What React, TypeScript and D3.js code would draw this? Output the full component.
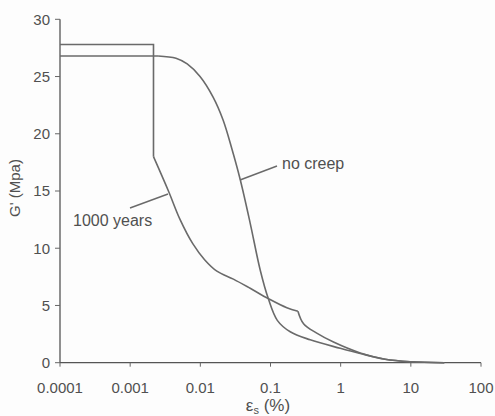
import React from "react";
import * as d3 from "d3";

const xTicks = [0.0001, 0.001, 0.01, 0.1, 1, 10, 100];
const xTickLabels = ["0.0001", "0.001", "0.01", "0.1", "1", "10", "100"];
const yTicks = [0, 5, 10, 15, 20, 25, 30];

// "1000 years" step part (flat then vertical drop)
const creepStepX = [0.0001, 0.00215, 0.00215];
const creepStepY = [27.8, 27.8, 18.0];
// "1000 years" decay part, up to the kink
const creepX = [0.00215, 0.00351, 0.00515, 0.0078, 0.0115, 0.0172, 0.0296, 0.0513, 0.093, 0.171, 0.246];
const creepY = [18.0, 15.0, 12.5, 10.4, 9.0, 8.0, 7.3, 6.5, 5.6, 4.8, 4.5];
// "1000 years" after the kink
const creepTailX = [0.246, 0.296, 0.45, 0.79, 1.9, 4.3, 10, 30];
const creepTailY = [4.5, 3.4, 2.6, 1.8, 0.85, 0.3, 0.08, 0];

// "no creep" plateau
const noCreepFlatX = [0.0001, 0.0025];
const noCreepFlatY = [26.8, 26.8];
// "no creep" decay
const noCreepX = [0.0025, 0.0045, 0.0065, 0.0099, 0.0152, 0.0211, 0.0284, 0.037, 0.0513, 0.0713, 0.093, 0.125, 0.191, 0.368, 0.986, 1.9, 4.3, 10, 30];
const noCreepY = [26.8, 26.6, 26.1, 25.0, 23.2, 21.2, 18.6, 16.0, 12.2, 8.1, 5.6, 3.7, 2.7, 2.0, 1.26, 0.8, 0.3, 0.08, 0];

export default function App() {
  const W = 495, H = 416;
  const x = d3.scaleLog().domain([1e-4, 100]).range([60, 481]);
  const y = d3.scaleLinear().domain([0, 30]).range([362.7, 19.3]);
  const lineColor = "#6a6a6a";
  const textColor = "#505050";
  const font = "'Liberation Sans', Arial, sans-serif";

  const zip = (xs: number[], ys: number[]) => xs.map((v, i) => [v, ys[i]] as [number, number]);
  const linLine = d3.line<[number, number]>().x(d => x(d[0])).y(d => y(d[1]));
  const smoothLine = d3.line<[number, number]>().x(d => x(d[0])).y(d => y(d[1])).curve(d3.curveCatmullRom.alpha(0.5));

  return (
    <svg width={W} height={H} style={{ position: "absolute", left: 0, top: 0, background: "#fdfdfd" }} fontFamily={font}>
      {/* axes */}
      <line x1={60} x2={60} y1={y(30)} y2={y(0)} stroke="#555" strokeWidth={1.3} />
      <line x1={60} x2={481} y1={y(0)} y2={y(0)} stroke="#555" strokeWidth={1.3} />
      {yTicks.map(t => (
        <g key={t}>
          <line x1={55} x2={60} y1={y(t)} y2={y(t)} stroke="#666" strokeWidth={1} />
          <text x={50} y={y(t)} dy="0.36em" textAnchor="end" fontSize={15} fill={textColor}>{t}</text>
        </g>
      ))}
      {xTicks.map((t, i) => (
        <g key={t}>
          <line x1={x(t)} x2={x(t)} y1={y(0)} y2={y(0) + 4} stroke="#666" strokeWidth={1} />
          <text x={x(t)} y={393} textAnchor="middle" fontSize={15} fill={textColor}>{xTickLabels[i]}</text>
        </g>
      ))}
      {/* axis titles */}
      <text x={268} y={411} textAnchor="middle" fontSize={17} fill={textColor}>
        ε<tspan fontSize={11} dy={3}>s</tspan><tspan dy={-3}> (%)</tspan>
      </text>
      <text transform={`translate(20,188) rotate(-90)`} textAnchor="middle" fontSize={15} fill={textColor}>G' (Mpa)</text>

      {/* curves */}
      <path d={linLine(zip(creepStepX, creepStepY)) || ""} fill="none" stroke={lineColor} strokeWidth={1.6} />
      <path d={smoothLine(zip(creepX, creepY)) || ""} fill="none" stroke={lineColor} strokeWidth={1.6} />
      <path d={smoothLine(zip(creepTailX, creepTailY)) || ""} fill="none" stroke={lineColor} strokeWidth={1.6} />
      <path d={linLine(zip(noCreepFlatX, noCreepFlatY)) || ""} fill="none" stroke={lineColor} strokeWidth={1.6} />
      <path d={smoothLine(zip(noCreepX, noCreepY)) || ""} fill="none" stroke={lineColor} strokeWidth={1.6} />

      {/* annotations */}
      <line x1={240} y1={180} x2={277} y2={166} stroke={lineColor} strokeWidth={1.4} />
      <text x={282} y={169} fontSize={16} fill={textColor}>no creep</text>
      <line x1={130} y1={208} x2={168} y2={194} stroke={lineColor} strokeWidth={1.4} />
      <text x={73} y={226} fontSize={16} fill={textColor}>1000 years</text>
    </svg>
  );
}
